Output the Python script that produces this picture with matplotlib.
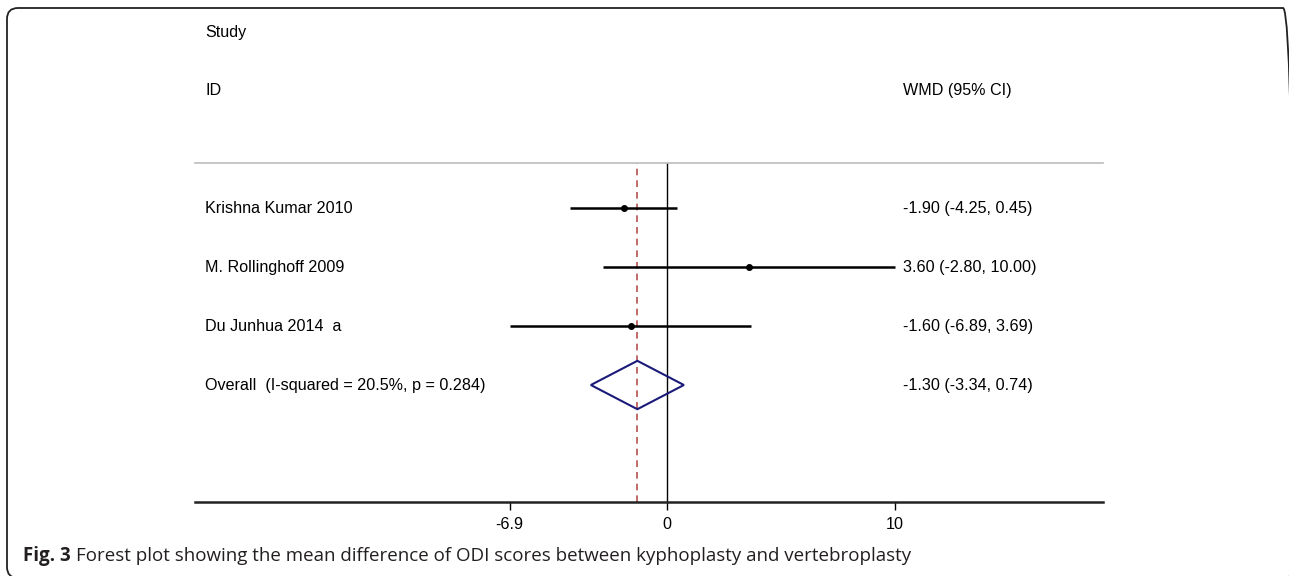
import matplotlib
matplotlib.use("Agg")
import matplotlib.pyplot as plt
from matplotlib.patches import Polygon, FancyBboxPatch
from matplotlib.transforms import IdentityTransform

# ---- data ----
studies = ["Krishna Kumar 2010", "M. Rollinghoff 2009", "Du Junhua 2014  a"]
est = [-1.90, 3.60, -1.60]
lo = [-4.25, -2.80, -6.89]
hi = [0.45, 10.00, 3.69]
overall_label = "Overall  (I-squared = 20.5%, p = 0.284)"
overall_est, overall_lo, overall_hi = -1.30, -3.34, 0.74
ci_labels = ["-1.90 (-4.25, 0.45)", "3.60 (-2.80, 10.00)", "-1.60 (-6.89, 3.69)",
             "-1.30 (-3.34, 0.74)"]
xticks = [-6.9, 0, 10]
xtick_labels = ["-6.9", "0", "10"]
header_left = ["Study", "ID"]
header_right = "WMD (95% CI)"
caption_bold = "Fig. 3"
caption_text = "Forest plot showing the mean difference of ODI scores between kyphoplasty and vertebroplasty"

W, H, DPI = 1289, 576, 100
fig = plt.figure(figsize=(W / DPI, H / DPI), dpi=DPI)
fig.patch.set_facecolor("white")

# axes in pixel layout: x 195..1103, y 163..502 (top-down)
ax_l, ax_r, ax_t, ax_b = 195, 1103, 163, 502
ax = fig.add_axes([ax_l / W, 1 - ax_b / H, (ax_r - ax_l) / W, (ax_b - ax_t) / H])
ax.set_xlim(-20.70, 19.12)
ax.set_ylim(5.983, 0.237)

font = "Liberation Sans"
fs = 11.6

rows = list(range(1, len(studies) + 1))
for r, e, l, h in zip(rows, est, lo, hi):
    ax.plot([l, h], [r, r], color="black", lw=1.8, solid_capstyle="butt", zorder=3)
    ax.plot([e], [r], marker="o", color="black", ms=4, zorder=4)

orow = len(studies) + 1
hh = 0.41
diamond = Polygon([[overall_lo, orow], [overall_est, orow - hh],
                   [overall_hi, orow], [overall_est, orow + hh]],
                  closed=True, fill=False, edgecolor="#1a1a7a", lw=1.5, zorder=3)
ax.add_patch(diamond)

ax.axvline(0, color="black", lw=1.0, zorder=2)
ax.axvline(overall_est, color="#b5504f", lw=1.2, ls=(0, (4, 3)), zorder=2)

for s in ["left", "right"]:
    ax.spines[s].set_visible(False)
ax.spines["top"].set_color("#bdbdbd")
ax.spines["top"].set_linewidth(1.2)
ax.spines["bottom"].set_color("#222222")
ax.spines["bottom"].set_linewidth(1.8)
ax.set_yticks([])
ax.set_xticks(xticks)
ax.set_xticklabels(xtick_labels, fontname=font, fontsize=fs)
ax.tick_params(axis="x", direction="out", length=6, width=1.0, pad=4.5, colors="black")

# labels
ytr = ax.get_yaxis_transform()
lx = (205 - ax_l) / (ax_r - ax_l)
rx = (903 - ax_l) / (ax_r - ax_l)
for r, name in zip(rows, studies):
    ax.text(lx, r, name, transform=ytr, ha="left", va="center", fontname=font, fontsize=fs, clip_on=False)
ax.text(lx, orow, overall_label, transform=ytr, ha="left", va="center", fontname=font, fontsize=fs, clip_on=False)
for r, t in zip(rows + [orow], ci_labels):
    ax.text(rx, r, t, transform=ytr, ha="left", va="center", fontname=font, fontsize=fs, clip_on=False)

# headers (row positions above the plot area)
ax.text(lx, -1.98, header_left[0], transform=ytr, ha="left", va="center", fontname=font, fontsize=fs, clip_on=False)
ax.text(lx, -1.0, header_left[1], transform=ytr, ha="left", va="center", fontname=font, fontsize=fs, clip_on=False)
ax.text(rx, -1.0, header_right, transform=ytr, ha="left", va="center", fontname=font, fontsize=fs, clip_on=False)

# caption
cap_y = 1 - 556 / H
t1 = fig.text(23 / W, cap_y, caption_bold, ha="left", va="center", fontname="Open Sans",
              fontweight="bold", fontsize=13.5, color="#231f20")
fig.canvas.draw()
bb = t1.get_window_extent(renderer=fig.canvas.get_renderer())
fig.text((bb.x1 + 5) / W, cap_y, caption_text, ha="left", va="center", fontname="Open Sans",
         fontsize=13.5, color="#231f20")

# rounded border
border = FancyBboxPatch((7, -2), 1287, 576 - 8 + 2, boxstyle="round,pad=0,rounding_size=11",
                        transform=IdentityTransform(), fill=False, edgecolor="#222222", lw=1.3,
                        figure=fig)
fig.patches.append(border)

fig.savefig("out.png", dpi=DPI, facecolor="white")
